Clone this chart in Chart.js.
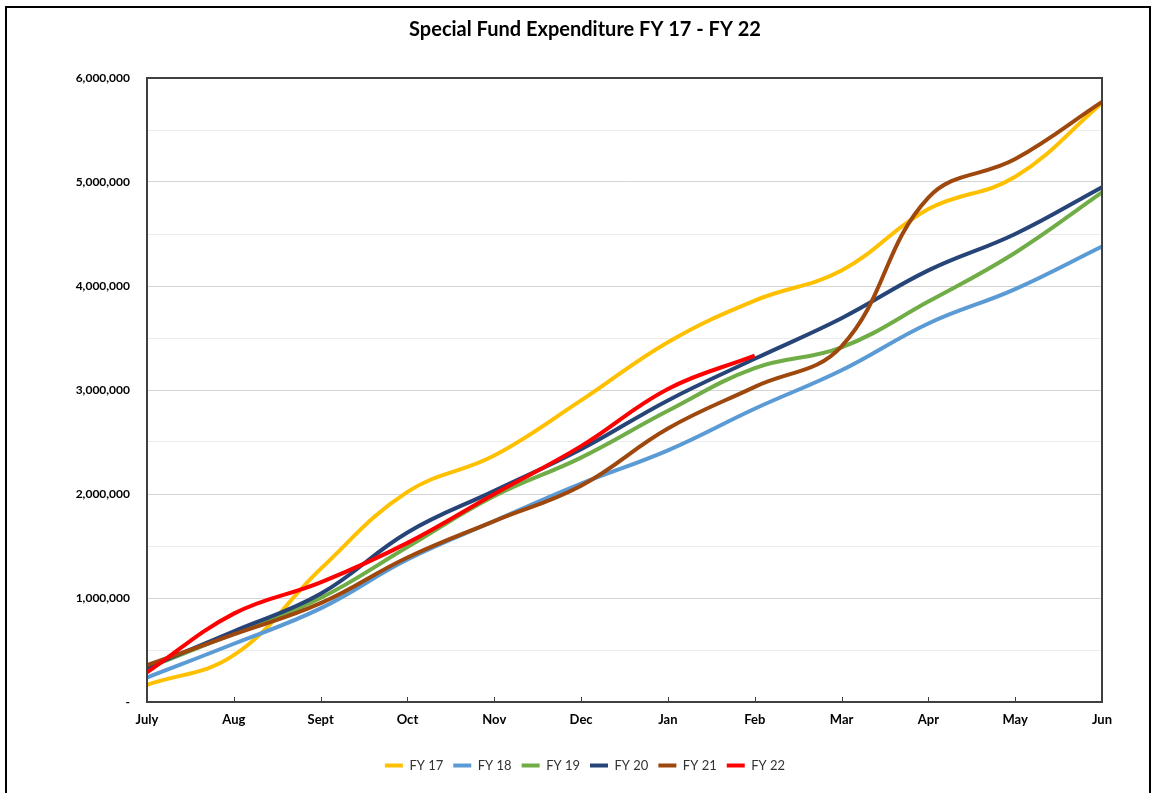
<!DOCTYPE html>
<html>
<head>
<meta charset="utf-8">
<title>Special Fund Expenditure FY 17 - FY 22</title>
<script src="https://cdn.jsdelivr.net/npm/chart.js@4/dist/chart.umd.min.js"></script>
<style>
  html, body { margin: 0; padding: 0; background: #fff; overflow: hidden; }
  #wrap { position: relative; width: 1156px; height: 793px; }
  #frame { position: absolute; left: 5px; top: 6px; width: 1142px; height: 820px;
           border: 2px solid #000; pointer-events: none; }
  canvas { position: absolute; left: 0; top: 0; }
</style>
</head>
<body>
<div id="wrap">
  <canvas id="myChart" width="1156" height="793"></canvas>
  <div id="frame"></div>
</div>
<script>
const months = ['July', 'Aug', 'Sept', 'Oct', 'Nov', 'Dec', 'Jan', 'Feb', 'Mar', 'Apr', 'May', 'Jun'];

// cumulative spend
const fy17 = [165000, 450000, 1280000, 2020000, 2370000, 2900000, 3460000, 3860000, 4150000, 4740000, 5050000, 5760000];
const fy18 = [235000, 560000, 900000, 1370000, 1740000, 2100000, 2420000, 2820000, 3190000, 3640000, 3970000, 4380000];
const fy19 = [325000, 660000, 1000000, 1490000, 1980000, 2350000, 2800000, 3210000, 3410000, 3850000, 4320000, 4900000];
const fy20 = [330000, 680000, 1040000, 1630000, 2030000, 2430000, 2900000, 3300000, 3690000, 4150000, 4500000, 4950000];
const fy21 = [355000, 650000, 950000, 1390000, 1740000, 2080000, 2630000, 3030000, 3420000, 4850000, 5220000, 5770000];
const fy22 = [285000, 850000, 1150000, 1530000, 2000000, 2460000, 3010000, 3330000, null, null, null, null];

const seriesNames = ['FY 17', 'FY 18', 'FY 19', 'FY 20', 'FY 21', 'FY 22'];
const seriesData = [fy17, fy18, fy19, fy20, fy21, fy22];
const seriesColors = ['#FFC000', '#5B9BD5', '#70AD47', '#264478', '#9E480E', '#FF0000'];

const Y_MAX = 6000000;
const Y_STEP = 500000;

const FONT = "Lato, 'Open Sans', sans-serif";

// box round the plot + small inward ticks on the x axis
const plotBox = {
  id: 'plotBox',
  afterDraw(chart) {
    const { ctx, chartArea: { left, top, right, bottom } } = chart;
    const xs = chart.scales.x;
    ctx.save();
    ctx.strokeStyle = '#404040';
    ctx.lineWidth = 1;
    xs.ticks.forEach((_, i) => {
      const px = Math.round(xs.getPixelForTick(i)) + 0.5;
      ctx.beginPath();
      ctx.moveTo(px, bottom);
      ctx.lineTo(px, bottom - 5);
      ctx.stroke();
    });
    ctx.lineWidth = 2;
    ctx.strokeRect(left, top, right - left, bottom - top);
    ctx.restore();
  }
};

let myChart;

const setup = () => {
  const ctxt = document.getElementById('myChart').getContext('2d');

  myChart = new Chart(ctxt, {
    type: 'line',
    data: {
      labels: [...months],
      datasets: seriesNames.map((name, i) => ({
        label: name,
        data: seriesData[i],
        borderColor: seriesColors[i],
        backgroundColor: seriesColors[i],
        borderWidth: 4,
        pointRadius: 0,
        pointHoverRadius: 0,
        tension: 0.4,
        fill: false,
        clip: false,
        spanGaps: false,
        order: seriesNames.length - i
      }))
    },
    options: {
      responsive: false,
      animation: false,
      layout: { padding: { left: 14, right: 0, top: 0, bottom: 11 } },
      plugins: {
        title: {
          display: true,
          text: 'Special Fund Expenditure FY 17 - FY 22',
          color: '#000',
          font: { family: FONT, size: 20, weight: 'bold' },
          padding: { top: 18, bottom: 36 }
        },
        legend: {
          position: 'bottom',
          labels: {
            usePointStyle: true,
            pointStyle: 'line',
            pointStyleWidth: 18,
            boxHeight: 13,
            padding: 10,
            color: '#333',
            font: { family: FONT, size: 13 },
            sort: (a, b) => a.datasetIndex - b.datasetIndex
          }
        },
        tooltip: { enabled: false }
      },
      scales: {
        x: {
          offset: false,
          grid: { display: false, drawTicks: false },
          border: { display: false },
          ticks: {
            padding: 10,
            color: '#000',
            maxRotation: 0,
            autoSkip: false,
            font: { family: FONT, size: 13, weight: 'bold' }
          },
          afterFit: (scale) => { scale.height = 47; }
        },
        y: {
          min: 0,
          max: Y_MAX,
          grid: {
            drawTicks: false,
            lineWidth: 1,
            color: (c) => (c.tick && c.tick.value % 1000000 === 0) ? '#d4d4d4' : '#ebebeb'
          },
          border: { display: false },
          ticks: {
            stepSize: Y_STEP,
            padding: 17,
            color: '#000',
            font: { family: FONT, size: 12, weight: 'bold' },
            callback: (v) => {
              if (v === 0) return '-';
              return v % 1000000 === 0 ? v.toLocaleString('en-US') : '';
            }
          },
          afterFit: (scale) => { scale.width = 133; }
        },
        y2: {
          position: 'right',
          display: true,
          grid: { display: false, drawTicks: false },
          border: { display: false },
          ticks: { display: false },
          afterFit: (scale) => { scale.width = 54; }
        }
      }
    },
    plugins: [plotBox]
  });
};

window.addEventListener('DOMContentLoaded', setup);
</script>
</body>
</html>
